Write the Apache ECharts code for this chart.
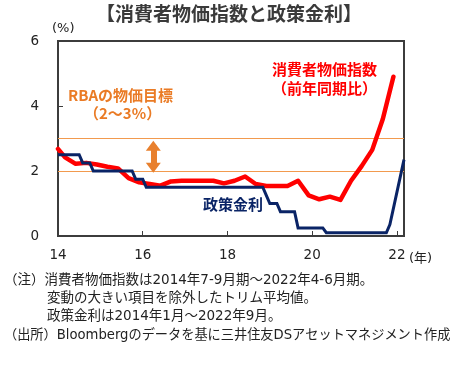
<!DOCTYPE html>
<html>
<head>
<meta charset="utf-8">
<script src="https://cdn.jsdelivr.net/npm/echarts@6/dist/echarts.min.js"></script>
<style>
html,body{margin:0;padding:0;background:#fff;}
#c{width:458px;height:365px;}
</style>
</head>
<body>
<div id="c"></div>
<script>
// ---- data ----
// months on the x axis: Jul 2014 ... Sep 2022
const months = [];
for (let y = 2014; y <= 2022; y++) {
  for (let m = 1; m <= 12; m++) {
    if (y === 2014 && m < 7) continue;
    if (y === 2022 && m > 9) continue;
    months.push(y + '-' + String(m).padStart(2, '0'));
  }
}
const yearTicks = ['14', '16', '18', '20', '22'];
const yTicks = [0, 2, 4, 6];

// RBA cash rate (monthly), Jul 2014 - Sep 2022
const policyRate = [
  2.5, 2.5, 2.5, 2.5, 2.5, 2.5,                                   // 2014 Jul-Dec
  2.5, 2.25, 2.25, 2.25, 2.0, 2.0, 2.0, 2.0, 2.0, 2.0, 2.0, 2.0,  // 2015
  2.0, 2.0, 2.0, 2.0, 1.75, 1.75, 1.75, 1.5, 1.5, 1.5, 1.5, 1.5,  // 2016
  1.5, 1.5, 1.5, 1.5, 1.5, 1.5, 1.5, 1.5, 1.5, 1.5, 1.5, 1.5,     // 2017
  1.5, 1.5, 1.5, 1.5, 1.5, 1.5, 1.5, 1.5, 1.5, 1.5, 1.5, 1.5,     // 2018
  1.5, 1.5, 1.5, 1.5, 1.5, 1.25, 1.0, 1.0, 1.0, 0.75, 0.75, 0.75, // 2019
  0.75, 0.75, 0.25, 0.25, 0.25, 0.25, 0.25, 0.25, 0.25, 0.25, 0.1, 0.1, // 2020
  0.1, 0.1, 0.1, 0.1, 0.1, 0.1, 0.1, 0.1, 0.1, 0.1, 0.1, 0.1,     // 2021
  0.1, 0.1, 0.1, 0.1, 0.35, 0.85, 1.35, 1.85, 2.35                // 2022 Jan-Sep
];

// Trimmed-mean CPI (y/y), quarterly, plotted at quarter-end months
const cpiMonths = [
  '2014-07', '2014-09', '2014-12',
  '2015-03', '2015-06', '2015-09', '2015-12',
  '2016-03', '2016-06', '2016-09', '2016-12',
  '2017-03', '2017-06', '2017-09', '2017-12',
  '2018-03', '2018-06', '2018-09', '2018-12',
  '2019-03', '2019-06', '2019-09', '2019-12',
  '2020-03', '2020-06', '2020-09', '2020-12',
  '2021-03', '2021-06', '2021-09', '2021-12',
  '2022-03', '2022-06'
];
const cpiValues = [
  2.68, 2.42, 2.22,
  2.25, 2.2, 2.13, 2.08,
  1.78, 1.65, 1.6, 1.55,
  1.68, 1.7, 1.7, 1.7,
  1.7, 1.62, 1.7, 1.83,
  1.6, 1.54, 1.54, 1.54,
  1.7, 1.25, 1.13, 1.21,
  1.11, 1.7, 2.15, 2.65,
  3.6, 4.9
];

// RBA target band
const targetBand = [2, 3];
const arrowMonth = '2016-10';
const arrowRange = [2.1, 2.78];

// ---- chart ----
const chart = echarts.init(document.getElementById('c'), null, {renderer: 'canvas'});
const showYear = (idx, val) => {
  const [y, m] = val.split('-');
  return m === '07' && yearTicks.includes(y.slice(2));
};
const cjk = '"Noto Sans CJK JP", "Noto Sans", sans-serif';
const mixed = '"DejaVu Sans", "Noto Sans CJK JP", sans-serif';
const frameColor = '#3c3c3c';

chart.setOption({
  animation: false,
  backgroundColor: '#ffffff',
  grid: {left: 58, right: 54, top: 41, bottom: 129, show: true, borderColor: frameColor, borderWidth: 2, backgroundColor: 'transparent'},
  xAxis: {
    type: 'category',
    data: months,
    boundaryGap: false,
    axisLine: {show: true, lineStyle: {color: frameColor, width: 2}},
    axisTick: {show: true, inside: true, length: 5, interval: showYear, lineStyle: {color: frameColor, width: 1}},
    axisLabel: {
      interval: showYear,
      formatter: v => v.slice(2, 4),
      color: '#222', fontSize: 13.5, margin: 12, fontFamily: '"DejaVu Sans", sans-serif'
    },
    splitLine: {show: false}
  },
  yAxis: {
    type: 'value',
    min: yTicks[0], max: yTicks[yTicks.length - 1], interval: 2,
    axisLine: {show: true, lineStyle: {color: frameColor, width: 2}},
    axisTick: {show: true, inside: true, length: 5, lineStyle: {color: frameColor}},
    axisLabel: {color: '#222', fontSize: 13.5, margin: 19, fontFamily: '"DejaVu Sans", sans-serif'},
    splitLine: {show: false}
  },
  series: [
    {
      name: '消費者物価指数',
      type: 'line',
      data: cpiMonths.map((m, i) => [m, cpiValues[i]]),
      showSymbol: false,
      symbol: 'none',
      lineStyle: {color: '#ff0000', width: 4.5, cap: 'round', join: 'round'},
      z: 3,
      markLine: {
        silent: true,
        symbol: 'none',
        label: {show: false},
        lineStyle: {color: '#f29a4e', width: 1, type: 'solid'},
        data: targetBand.map(v => ({yAxis: v})),
        z: 1
      }
    },
    {
      name: '政策金利',
      type: 'line',
      data: policyRate,
      showSymbol: false,
      symbol: 'none',
      lineStyle: {color: '#0a2466', width: 3, join: 'miter'},
      z: 4,
      markLine: {
        silent: true,
        symbol: ['triangle', 'triangle'],
        symbolSize: [15, 10],
        label: {show: false},
        lineStyle: {color: '#e8802e', width: 6, type: 'solid'},
        data: [[{coord: [arrowMonth, arrowRange[0]]}, {coord: [arrowMonth, arrowRange[1]]}]]
      }
    }
  ],
  graphic: [
    {type: 'text', left: 'center', top: 4, style: {text: '【消費者物価指数と政策金利】', fill: '#3a3a3a', font: 'bold 19px ' + cjk}},
    {type: 'text', left: 52, top: 22, style: {text: '(%)', fill: '#222', font: '13px "DejaVu Sans", sans-serif'}},
    {type: 'text', left: 409, top: 252, style: {text: '(年)', fill: '#222', font: '13px ' + mixed}},
    {type: 'text', left: 68, top: 88, style: {text: 'RBAの物価目標', fill: '#ea7b25', font: 'bold 15px ' + cjk}},
    {type: 'text', left: 84, top: 106, style: {text: '（2～3%）', fill: '#ea7b25', font: 'bold 15px ' + cjk}},
    {type: 'text', left: 272, top: 62, style: {text: '消費者物価指数', fill: '#ff0000', font: 'bold 15px ' + cjk}},
    {type: 'text', left: 272, top: 81, style: {text: '（前年同期比）', fill: '#ff0000', font: 'bold 15px ' + cjk}},
    {type: 'text', left: 203, top: 197, style: {text: '政策金利', fill: '#0a2466', font: 'bold 15px ' + cjk}},
    {type: 'text', left: 4, top: 274, style: {text: '（注）消費者物価指数は2014年7-9月期～2022年4-6月期。', fill: '#222', font: '13.5px ' + mixed}},
    {type: 'text', left: 47, top: 292, style: {text: '変動の大きい項目を除外したトリム平均値。', fill: '#222', font: '13.5px ' + mixed}},
    {type: 'text', left: 47, top: 310, style: {text: '政策金利は2014年1月～2022年9月。', fill: '#222', font: '13.5px ' + mixed}},
    {type: 'text', left: 4, top: 329, style: {text: '（出所）Bloombergのデータを基に三井住友DSアセットマネジメント作成', fill: '#222', font: '13.2px ' + mixed}}
  ]
});
</script>
</body>
</html>
